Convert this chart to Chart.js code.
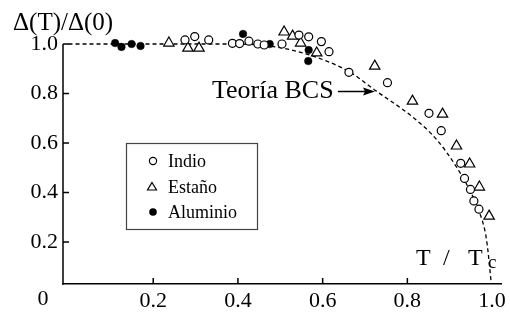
<!DOCTYPE html>
<html><head><meta charset="utf-8">
<script src="https://cdn.jsdelivr.net/npm/chart.js@4/dist/chart.umd.min.js"></script>
<style>html,body{margin:0;padding:0;background:#fff;}#wrap{width:510px;height:316px;}</style>
</head><body><div id="wrap"><canvas id="c" width="510" height="316"></canvas></div>
<script>
const seriesNames = ['Indio', 'Estaño', 'Aluminio', 'Teoría BCS'];
const indioX = [0.275, 0.298, 0.331, 0.387, 0.404, 0.426, 0.447, 0.462, 0.504, 0.544, 0.567, 0.597, 0.615, 0.662, 0.753, 0.851, 0.880, 0.926, 0.935, 0.949, 0.957, 0.969];
const indioY = [1.0165, 1.030, 1.0165, 1.003, 1.002, 1.0116, 1.0, 0.996, 1.0, 1.036, 1.029, 1.0097, 0.969, 0.8856, 0.8439, 0.7198, 0.650, 0.518, 0.457, 0.4124, 0.3658, 0.3328];
const estanoX = [0.237, 0.282, 0.308, 0.509, 0.529, 0.548, 0.586, 0.723, 0.812, 0.883, 0.916, 0.947, 0.970, 0.993];
const estanoY = [1.004, 0.9835, 0.9835, 1.0485, 1.032, 1.004, 0.964, 0.9108, 0.7692, 0.7168, 0.5879, 0.5152, 0.4221, 0.3047];
const aluX = [0.110, 0.125, 0.149, 0.170, 0.412, 0.475, 0.567, 0.566];
const aluY = [1.004, 0.9883, 1.0, 0.9922, 1.0407, 1.0, 0.9758, 0.9311];
const bcsX = [0, 0.38, 0.475, 0.569, 0.664, 0.7229, 0.8125, 0.870, 0.916, 0.947, 0.970, 0.987, 1.0];
const bcsY = [1.0, 1.0, 0.9919, 0.9556, 0.8869, 0.8141, 0.705, 0.6121, 0.5030, 0.4101, 0.3212, 0.2081, 0.0];
const xTicks = [0.2, 0.4, 0.6, 0.8, 1.0];
const xTickLabels = ['0.2', '0.4', '0.6', '0.8', '1.0'];
const yTicks = [0.2, 0.4, 0.6, 0.8, 1.0];
const yTickLabels = ['0.2', '0.4', '0.6', '0.8', '1.0'];
const yTitle = 'Δ(T)/Δ(0)';
const xTitleMain = ['T', '/', 'T'];
const xTitleSub = 'c';
const originLabel = '0';

const SERIF = '"Liberation Serif", "Times New Roman", serif';
const pts = (xs, ys) => xs.map((x, i) => ({x, y: ys[i]}));
const lbl = (vals, labels) => v => { const i = vals.findIndex(t => Math.abs(t - v) < 1e-9); return i < 0 ? '' : labels[i]; };

const deco = {
  id: 'deco',
  afterDraw(chart) {
    const ctx = chart.ctx, xs = chart.scales.x, ys = chart.scales.y, a = chart.chartArea;
    ctx.save();
    ctx.strokeStyle = '#000'; ctx.lineWidth = 1.5;
    const yTop = ys.getPixelForValue(1.0);
    ctx.beginPath(); ctx.moveTo(a.left, yTop); ctx.lineTo(a.left, a.bottom + 0.75); ctx.stroke();
    xTicks.forEach(v => { if (v > 0.99) return; const p = xs.getPixelForValue(v); ctx.beginPath(); ctx.moveTo(p, a.bottom); ctx.lineTo(p, a.bottom - 6); ctx.stroke(); });
    yTicks.forEach(v => { const p = ys.getPixelForValue(v); ctx.beginPath(); ctx.moveTo(a.left, p); ctx.lineTo(a.left + 6, p); ctx.stroke(); });
    ctx.fillStyle = '#000';
    ctx.font = '25px ' + SERIF; ctx.textAlign = 'left'; ctx.textBaseline = 'alphabetic';
    ctx.fillText(yTitle, 13, 30);
    ctx.font = '22px ' + SERIF; ctx.textAlign = 'center'; ctx.textBaseline = 'middle';
    ctx.fillText(originLabel, 43, 299);
    ctx.font = '24px ' + SERIF; ctx.textAlign = 'left'; ctx.textBaseline = 'alphabetic';
    ctx.fillText(xTitleMain[0], 416, 265);
    ctx.fillText(xTitleMain[1], 443, 265);
    ctx.fillText(xTitleMain[2], 468, 265);
    ctx.font = '19px ' + SERIF;
    ctx.fillText(xTitleSub, 488, 268);
    ctx.font = '26px ' + SERIF;
    ctx.fillText(seriesNames[3], 212, 98);
    ctx.lineWidth = 1.5;
    ctx.beginPath(); ctx.moveTo(338, 91.5); ctx.lineTo(367, 91.5); ctx.stroke();
    ctx.beginPath(); ctx.moveTo(375, 91.5); ctx.lineTo(363, 87.5); ctx.lineTo(365, 91.5); ctx.lineTo(363, 95.5); ctx.closePath(); ctx.fill();
    ctx.fillStyle = '#fff'; ctx.fillRect(126, 143, 131, 86);
    ctx.strokeStyle = '#444'; ctx.lineWidth = 1.2; ctx.strokeRect(126.5, 143.5, 131, 86);
    const rows = [161, 187, 212];
    ctx.font = '18px ' + SERIF; ctx.textAlign = 'left'; ctx.textBaseline = 'alphabetic';
    ctx.strokeStyle = '#000';
    ctx.lineWidth = 1.2; ctx.beginPath(); ctx.arc(153, rows[0], 3.6, 0, Math.PI * 2); ctx.fillStyle = '#fff'; ctx.fill(); ctx.stroke();
    ctx.beginPath(); ctx.moveTo(152, rows[1] - 4.5); ctx.lineTo(156.5, rows[1] + 3); ctx.lineTo(147.5, rows[1] + 3); ctx.closePath(); ctx.stroke();
    ctx.fillStyle = '#000'; ctx.beginPath(); ctx.arc(153, rows[2], 3.8, 0, Math.PI * 2); ctx.fill();
    chart.data.datasets.slice(0, 3).forEach((d, i) => ctx.fillText(d.label, 168, rows[i] + 6));
    ctx.restore();
  }
};

new Chart(document.getElementById('c'), {
  type: 'scatter',
  data: {
    datasets: [
      { label: seriesNames[0], data: pts(indioX, indioY), pointStyle: 'circle', pointRadius: 4, borderWidth: 1.2, borderColor: '#000', backgroundColor: '#fff', clip: false, order: 1 },
      { label: seriesNames[1], data: pts(estanoX, estanoY), pointStyle: 'triangle', pointRadius: 6, borderWidth: 1.2, borderColor: '#000', backgroundColor: '#fff', clip: false, order: 1 },
      { label: seriesNames[2], data: pts(aluX, aluY), pointStyle: 'circle', pointRadius: 3.8, borderWidth: 0.5, borderColor: '#000', backgroundColor: '#000', clip: false, order: 1 },
      { label: seriesNames[3], data: pts(bcsX, bcsY), showLine: true, pointRadius: 0, borderColor: '#000', borderWidth: 1.3, borderDash: [4, 3], cubicInterpolationMode: 'monotone', order: 5 }
    ]
  },
  options: {
    responsive: false, animation: false, devicePixelRatio: 1,
    layout: { padding: { left: 0, top: 26.7, right: 8, bottom: 0 } },
    plugins: { legend: { display: false }, tooltip: { enabled: false } },
    scales: {
      x: {
        type: 'linear', min: -0.013, max: 1.022,
        afterBuildTicks: s => { s.ticks = xTicks.map(v => ({value: v})); },
        afterFit: s => { s.height = 32; },
        grid: { display: false, drawTicks: false, tickLength: 0 },
        border: { display: true, color: '#000', width: 1.5 },
        ticks: { autoSkip: false, maxRotation: 0, padding: 4, color: '#000', font: { family: SERIF, size: 22 }, callback: lbl(xTicks, xTickLabels) }
      },
      y: {
        type: 'linear', min: 0.0303, max: 1.07,
        afterBuildTicks: s => { s.ticks = yTicks.map(v => ({value: v})); },
        afterFit: s => { s.width = 63; },
        grid: { display: false, drawTicks: false, tickLength: 0 },
        border: { display: false },
        ticks: { autoSkip: false, padding: 5, color: '#000', font: { family: SERIF, size: 22 }, callback: lbl(yTicks, yTickLabels) }
      }
    }
  },
  plugins: [deco]
});
</script></body></html>
